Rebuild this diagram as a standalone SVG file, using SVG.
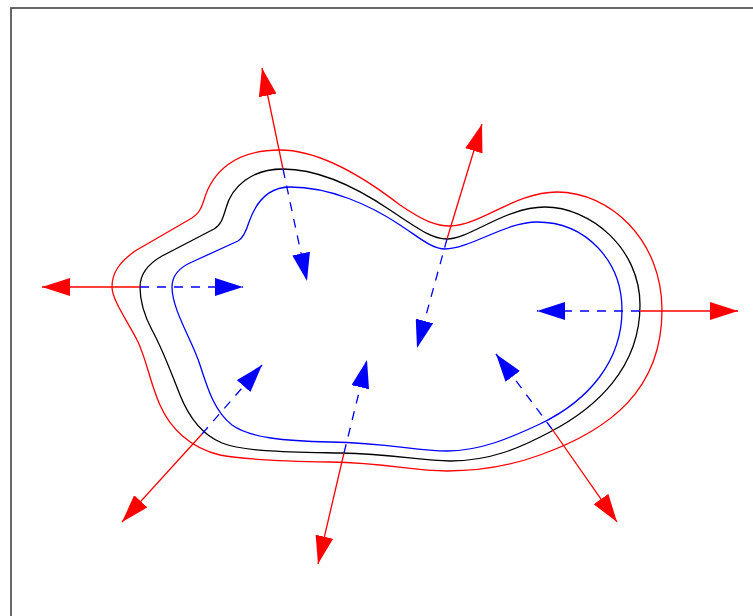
<svg xmlns="http://www.w3.org/2000/svg" width="753" height="616" viewBox="0 0 753 616">
<style>
.curve{fill:none;stroke-width:1.3;stroke-linejoin:round}
.out{stroke:#ff0000;stroke-width:1.3;fill:none}
.in{stroke:#0000ff;stroke-width:1.3;fill:none;stroke-dasharray:9,8}
</style>
<defs>
<marker id="hr" viewBox="0 0 28 18" refX="28" refY="9" markerWidth="28" markerHeight="18" markerUnits="userSpaceOnUse" orient="auto">
<path d="M0,0 L28,9 L0,18 Z" fill="#ff0000"/>
</marker>
<marker id="hb" viewBox="0 0 28 18" refX="28" refY="9" markerWidth="28" markerHeight="18" markerUnits="userSpaceOnUse" orient="auto">
<path d="M0,0 L28,9 L0,18 Z" fill="#0000ff"/>
</marker>
</defs>
<rect x="0" y="0" width="753" height="616" fill="#ffffff"/>
<rect id="frame" x="11" y="8" width="800" height="700" fill="none" stroke="#444444" stroke-width="1.6"/>
<g id="outer-curve">
<path class="curve" stroke="#ff0000" d="M112,287 C112,272 120,262 135,251 L192,218 C198,214 201,210 204,200 C212,172 235,150 280,150 C320,150 365,178 400,205 C425,222 437,226 450,226 C480,226 515,192 557,192 C610,192 662,240 662,310 C662,390 610,430 540,455 C510,466 480,471 447,471 C410,471 390,463 330,462 C270,461 240,459 220,455 C190,448 170,428 160,405 C150,383 146,357 137,340 C128,322 112,300 112,287 Z"/>
</g>
<g id="middle-curve">
<path class="curve" stroke="#000000" d="M140,287 C140,275 148,264 162,256 L214,229 C221,225 223,218 226,208 C232,186 252,169 283,169 C315,169 350,183 390,210 C420,230 432,239 447,239 C470,239 505,207 545,207 C590,207 640,248 640,305 C640,368 596,408 550,432 C520,448 490,461 450,461 C420,461 395,454 340,453 C290,452 245,452 222,443 C200,434 188,415 180,395 C170,370 163,350 152,330 C144,315 140,300 140,287 Z"/>
</g>
<g id="inner-curve">
<path class="curve" stroke="#0000ff" d="M172,287 C172,277 178,268 192,262 L238,241 C243,238 246,232 249,222 C256,202 268,187 290,187 C330,187 370,205 400,225 C420,238 432,249 445,249 C470,249 505,222 537,222 C585,222 622,260 622,310 C622,360 590,400 540,424 C510,438 480,451 447,451 C415,451 390,443 330,442 C285,441 250,438 232,425 C215,412 208,390 200,365 C193,342 172,310 172,287 Z"/>
</g>
<g id="connectors">
<line class="out" x1="140" y1="287" x2="42" y2="287" marker-end="url(#hr)"/>
<line class="in" x1="140" y1="287" x2="243" y2="287" marker-end="url(#hb)"/>
<line class="out" x1="283" y1="169" x2="262" y2="68" marker-end="url(#hr)"/>
<line class="in" x1="283" y1="169" x2="307" y2="281" marker-end="url(#hb)"/>
<line class="out" x1="447" y1="239" x2="482" y2="124" marker-end="url(#hr)"/>
<line class="in" x1="447" y1="239" x2="417" y2="348" marker-end="url(#hb)"/>
<line class="out" x1="640" y1="311" x2="738" y2="311" marker-end="url(#hr)"/>
<line class="in" x1="640" y1="311" x2="537" y2="311" marker-end="url(#hb)"/>
<line class="out" x1="552" y1="429" x2="617" y2="522" marker-end="url(#hr)"/>
<line class="in" x1="552" y1="429" x2="496" y2="354" marker-end="url(#hb)"/>
<line class="out" x1="344" y1="453" x2="318" y2="564" marker-end="url(#hr)"/>
<line class="in" x1="344" y1="453" x2="367" y2="360" marker-end="url(#hb)"/>
<line class="out" x1="202" y1="434" x2="122" y2="522" marker-end="url(#hr)"/>
<line class="in" x1="202" y1="434" x2="262" y2="365" marker-end="url(#hb)"/>
</g>
</svg>
